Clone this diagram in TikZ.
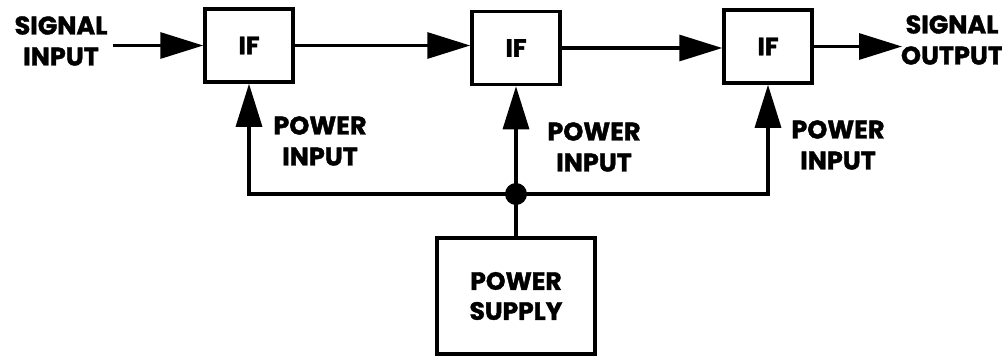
\documentclass[tikz,border=0pt]{standalone}
\usepackage{fontspec}
\setmainfont{Poppins}[BoldFeatures={FakeBold=1.5}]
\usetikzlibrary{arrows.meta}
\begin{document}
\begin{tikzpicture}[x=1pt,y=-1pt,
  blk/.style={draw, line width=3.5pt, minimum width=88pt, minimum height=73pt, inner sep=0pt, align=center,
    font=\bfseries\fontsize{25}{30}\selectfont},
  lbl/.style={align=center, inner sep=0pt, font=\bfseries\fontsize{25.5}{31}\selectfont},
  wire/.style={line width=3.2pt},
  arr/.style={wire, -{Triangle[length=43pt,width=26pt]}},
  dotnode/.style={circle, fill, minimum size=22pt, inner sep=0pt}]
\useasboundingbox (0,0) rectangle (1002,357);
\node[blk] (if1) at (249,45.5) {IF};
\node[blk] (if2) at (516,48) {IF};
\node[blk] (if3) at (768,46.5) {IF};
\node[blk, minimum width=158pt, minimum height=116pt] (ps) at (516,296) {POWER\\SUPPLY};
\node[lbl] (sin) at (61,41) {SIGNAL\\INPUT};
\node[lbl] (sout) at (952,40) {SIGNAL\\OUTPUT};
\node[lbl] (pin1) at (320,141) {POWER\\INPUT};
\node[lbl] (pin2) at (594,147) {POWER\\INPUT};
\node[lbl] (pin3) at (838,145) {POWER\\INPUT};
\coordinate (sinend) at (113,45.5);
\coordinate (soutend) at (902,46.5);
\coordinate (jc) at (516,194);
\draw[arr] (sinend) -- (if1.west);
\draw[arr] (if1.east) -- (if1.east -| if2.west);
\draw[arr] (if2.east) -- (if2.east -| if3.west);
\draw[arr] (if3.east) -- (soutend);
\draw[arr] (jc) -| (if1.south);
\draw[arr] (jc) -- (if2.south);
\draw[arr] (jc) -| (if3.south);
\draw[wire] (ps.north) -- (jc);
\node[dotnode] (j) at (jc) {};
\end{tikzpicture}
\end{document}
